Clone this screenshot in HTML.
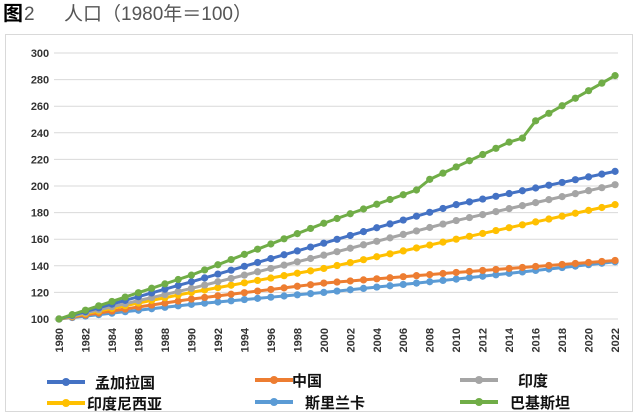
<!DOCTYPE html>
<html><head><meta charset="utf-8"><style>
body{margin:0;width:641px;height:415px;background:#fff;overflow:hidden;font-family:"Liberation Sans","Noto Sans CJK SC",sans-serif}
</style></head><body>
<svg id="s" width="641" height="415" xmlns="http://www.w3.org/2000/svg">
<text x="3" y="20" font-size="20" fill="#000" font-weight="bold" font-family="Noto Sans CJK SC,sans-serif">图</text>
<text x="24" y="20" font-size="19" fill="#555" font-family="Liberation Sans,Noto Sans CJK SC,sans-serif">2</text>
<text x="64" y="20" font-size="19" fill="#555" font-family="Liberation Sans,Noto Sans CJK SC,sans-serif">人口（1980年＝100）</text>
<rect x="5.5" y="34.5" width="627" height="377" fill="#fff" stroke="#d9d9d9"/>
<g id="g"></g>
</svg>
<script>
var g=document.getElementById('g'),h='';
function Y(v){return 319-(v-100)*1.33}
function X(y){return 59+(y-1980)*13.24}
for(var v=100;v<=300;v+=20){var y=Y(v);
h+='<line x1="54" x2="618" y1="'+y+'" y2="'+y+'" stroke="#d9d9d9"/>';
h+='<text x="40" y="'+(y+4)+'" font-size="11" font-weight="bold" text-anchor="middle" fill="#333">'+v+'</text>';}
for(var yr=1980;yr<=2022;yr+=2){var x=X(yr);
h+='<text transform="translate('+(x+4)+',328) rotate(-90)" text-anchor="end" font-size="11" font-weight="bold" fill="#333">'+yr+'</text>';}
var S=[
['#5B9BD5',[[1980,100],[1990,111],[2000,120],[2010,130],[2022,143]]],
['#ED7D31',[[1980,100],[1990,115],[2000,127],[2010,135],[2022,144]]],
['#FFC000',[[1980,100],[1990,120],[2000,138],[2010,160],[2022,186]]],
['#A5A5A5',[[1980,100],[1990,123],[2000,148],[2010,174],[2022,201]]],
['#4472C4',[[1980,100],[1990,128],[2000,157],[2010,186],[2022,211]]],
['#70AD47',[[1980,100],[1990,133],[2000,172],[2007,197],[2008,205],[2014,233],[2015,236],[2016,249],[2022,283]]]];
S.forEach(function(s){var k=s[1],pts=[];
for(var yr=1980;yr<=2022;yr++){for(var i=0;i<k.length-1;i++)if(yr>=k[i][0]&&yr<=k[i+1][0])break;
var a=k[i],b=k[i+1],v=a[1]+(b[1]-a[1])*(yr-a[0])/(b[0]-a[0]);pts.push([X(yr),Y(v)]);}
h+='<polyline fill="none" stroke="'+s[0]+'" stroke-width="3" points="'+pts.map(function(p){return p.join(',')}).join(' ')+'"/>';
pts.forEach(function(p){h+='<circle cx="'+p[0]+'" cy="'+p[1]+'" r="3.6" fill="'+s[0]+'"/>'});});
var L=[['#4472C4','孟加拉国',47,382,95],['#ED7D31','中国',255,380,292],['#A5A5A5','印度',460,380,518],
['#FFC000','印度尼西亚',47,403,87],['#5B9BD5','斯里兰卡',255,402,305],['#70AD47','巴基斯坦',460,402,510]];
L.forEach(function(l){h+='<line x1="'+l[2]+'" x2="'+(l[2]+38)+'" y1="'+l[3]+'" y2="'+l[3]+'" stroke="'+l[0]+'" stroke-width="4"/><circle cx="'+(l[2]+19)+'" cy="'+l[3]+'" r="4" fill="'+l[0]+'"/>';
h+='<text x="'+l[4]+'" y="'+(l[3]+6)+'" font-size="15" font-weight="bold" fill="#111">'+l[1]+'</text>';});
g.innerHTML=h;
</script>
</body></html>
